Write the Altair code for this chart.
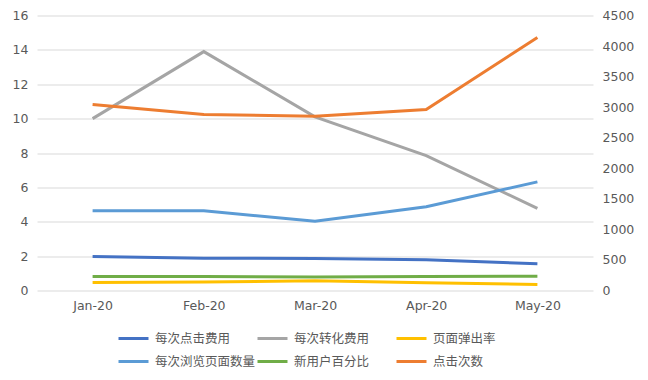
import altair as alt
import pandas as pd

months = ["Jan-20", "Feb-20", "Mar-20", "Apr-20", "May-20"]

cpc = [1.98, 1.88, 1.86, 1.79, 1.56]          # 每次点击费用
cpa = [10.0, 13.9, 10.1, 7.85, 4.78]          # 每次转化费用
bounce = [0.46, 0.49, 0.57, 0.45, 0.35]       # 页面弹出率
pages = [4.64, 4.64, 4.03, 4.87, 6.32]        # 每次浏览页面数量
newusers = [0.81, 0.81, 0.79, 0.81, 0.83]     # 新用户百分比
clicks = [3045, 2880, 2850, 2962, 4140]       # 点击次数 (right axis)

series_order = ["每次点击费用", "每次转化费用", "页面弹出率",
                "每次浏览页面数量", "新用户百分比", "点击次数"]
colors = ["#4472C4", "#A5A5A5", "#FFC000", "#5B9BD5", "#70AD47", "#ED7D31"]

left_series = {
    "每次点击费用": cpc,
    "每次转化费用": cpa,
    "页面弹出率": bounce,
    "每次浏览页面数量": pages,
    "新用户百分比": newusers,
}
rows = []
for name, vals in left_series.items():
    for m, v in zip(months, vals):
        rows.append({"month": m, "series": name, "value": v})
left_df = pd.DataFrame(rows)
right_df = pd.DataFrame({"month": months, "series": "点击次数", "value": clicks})

label_font = "DejaVu Sans"
label_color = "#595959"

x_enc = alt.X("month:N", sort=months, title=None,
              scale=alt.Scale(type="point", padding=0.5),
              axis=alt.Axis(labelAngle=0, domain=False, ticks=False, grid=False,
                            labelPadding=9, labelFont=label_font, labelFontSize=12.5,
                            labelColor=label_color))

color_enc = alt.Color("series:N",
                      scale=alt.Scale(domain=series_order, range=colors),
                      sort=series_order,
                      legend=alt.Legend(title=None, orient="none", legendX=80, legendY=306.5,
                                        direction="horizontal", columns=3,
                                        gridAlign="all", columnPadding=-6, rowPadding=-10,
                                        symbolType="stroke", symbolSize=900,
                                        symbolStrokeWidth=3, labelFont="Noto Sans CJK SC",
                                        labelFontSize=12.5, labelColor=label_color,
                                        labelOffset=5))

left = alt.Chart(left_df).mark_line(strokeWidth=3).encode(
    x=x_enc,
    y=alt.Y("value:Q", title=None,
            scale=alt.Scale(domain=[0, 16]),
            axis=alt.Axis(values=list(range(0, 17, 2)), domain=False, ticks=False,
                          gridColor="#D9D9D9", gridWidth=1, labelPadding=9,
                          labelFont=label_font, labelFontSize=12.5, labelColor=label_color)),
    color=color_enc,
    detail="series:N",
)

right = alt.Chart(right_df).mark_line(strokeWidth=3).encode(
    x=x_enc,
    y=alt.Y("value:Q", title=None,
            scale=alt.Scale(domain=[0, 4500]),
            axis=alt.Axis(orient="right", values=list(range(0, 4501, 500)), format="d",
                          domain=False, ticks=False, grid=False, labelPadding=9,
                          labelFont=label_font, labelFontSize=12.5, labelColor=label_color)),
    color=color_enc,
)

chart = alt.layer(left, right).resolve_scale(y="independent").properties(
    width=556, height=275,
    autosize=alt.AutoSizeParams(type="none"),
    padding={"left": 29, "top": 7.5, "right": 47, "bottom": 81.5},
    background="white",
).configure_view(stroke=None)

chart.save("out.html", embed_options={"renderer": "svg", "actions": False})
